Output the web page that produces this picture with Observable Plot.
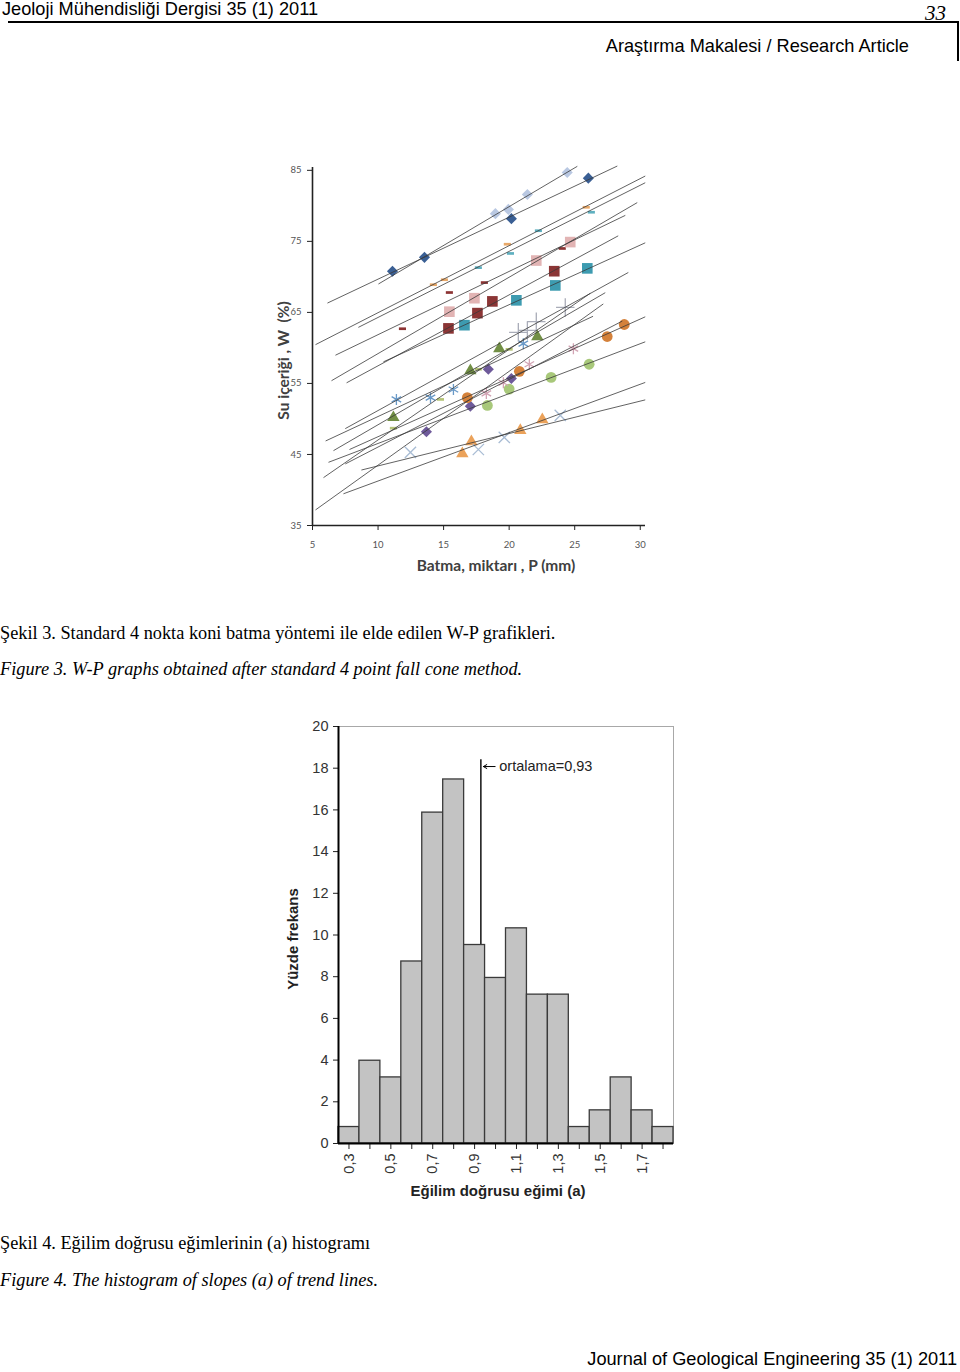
<!DOCTYPE html>
<html><head><meta charset="utf-8">
<script src="https://cdn.jsdelivr.net/npm/d3@7"></script>
<script src="https://cdn.jsdelivr.net/npm/@observablehq/plot@0.6"></script>
<style>
body{margin:0;background:#fff;}
#page{position:relative;width:960px;height:1372px;overflow:hidden;font-family:"Liberation Sans",Arial,sans-serif;color:#000;}
.abs{position:absolute;white-space:nowrap;line-height:1;}
.hdr{font-size:18.2px;}
.cap{font-family:"Liberation Serif","Times New Roman",serif;font-size:18.3px;}
.it{font-style:italic;}
#scatter,#hist{position:absolute;left:0;}
#scatter{top:150px;} #hist{top:700px;}
</style></head><body><div id="page">
<div class="abs hdr" style="left:2px;top:0px;">Jeoloji Mühendisliği Dergisi 35 (1) 2011</div>
<div class="abs" style="left:925px;top:1px;line-height:1.2;font-family:'Liberation Serif',serif;font-style:italic;font-size:21px;">33</div>
<div class="abs" style="left:8px;top:21px;width:950px;height:0;border-top:2px solid #000;"></div>
<div class="abs" style="left:957px;top:21px;width:0;height:40px;border-left:2px solid #000;"></div>
<div class="abs hdr" style="right:51px;top:37px;">Araştırma Makalesi / Research Article</div>
<div id="scatter"></div>
<div class="abs cap" style="left:0;top:624px;">Şekil 3. Standard 4 nokta koni batma yöntemi ile elde edilen W-P grafikleri.</div>
<div class="abs cap it" style="left:0;top:660px;">Figure 3. W-P graphs obtained after standard 4 point fall cone method.</div>
<div id="hist"></div>
<div class="abs cap" style="left:0;top:1234px;">Şekil 4. Eğilim doğrusu eğimlerinin (a) histogramı</div>
<div class="abs cap it" style="left:0;top:1271px;">Figure 4. The histogram of slopes (a) of trend lines.</div>
<div class="abs hdr" style="right:3px;top:1350px;">Journal of Geological Engineering 35 (1) 2011</div>
</div>
<script>
// ---------- Figure 3 data (W-P fall cone tests) ----------
const wpXTicks = [5, 10, 15, 20, 25, 30];
const wpYTicks = [35, 45, 55, 65, 75, 85];
const wpXLabel = "Batma, miktarı , P (mm)";
const wpYLabel = "Su içeriği , W  (%)";
// point table (long format): test id, penetration P (mm), water content W (%)
const pointTest = [0,0,0,0, 1,1,1,1, 2,2,2,2, 3,3,3,3, 4,4,4,4, 5,5,5,5, 6,6,6,6, 7,7,7,7, 8,8,8,8,
  9,9,9,9, 10,10,10,10, 11,11,11,11, 12,12,12,12, 13,13,13,13, 14,14,14,14, 15,15,15,15, 16,16,16,16, 17,17,17,17];
const pointP = [11.10,13.54,20.17,26.04, 18.95,19.94,21.39,24.43, 14.22,15.06,19.86,25.88, 17.65,20.10,22.23,26.27,
  11.86,15.44,18.11,24.05, 15.44,17.35,22.07,24.66, 15.37,17.58,18.72,23.44, 16.59,20.55,23.52,25.96,
  11.17,17.04,19.25,22.15, 11.17,14.76,17.65,20.00, 13.69,17.04,18.41,20.17, 16.81,20.78,27.48,28.78,
  18.34,20.00,23.20,26.10, 16.43,17.12,20.85,22.53, 12.47,17.65,19.63,23.90, 18.26,19.56,21.54,24.90,
  11.40,14.00,15.75,21.08, 20.70,21.39,22.07,24.28];
const pointW = [70.8,72.75,78.2,83.9, 78.9,79.5,81.6,84.7, 68.9,69.6,74.6,79.8, 71.3,73.3,76.5,79.1,
  62.7,67.8,69.2,74.0, 65.1,67.0,72.3,74.9, 62.75,64.9,66.55,70.8, 63.2,66.7,68.8,71.2,
  50.2,56.8,59.9,61.6, 48.7,52.75,57.0,59.8, 48.2,51.8,57.0,55.7, 53.0,56.7,61.6,63.3,
  51.9,54.2,55.85,57.7, 45.1,46.8,48.4,49.9, 45.3,45.7,47.4,50.5, 53.6,55.1,57.7,59.9,
  52.75,53.0,54.15,60.6, 62.2,62.46,63.7,65.7];
// trend line extent for each test (P from / to, mm)
const trendFrom = [6.14,10.03,5.23,8.5,6.75,6.45,7.6,10.41,6.6,5.84,5.23,7.82,6.22,7.36,8.73,7.5,6.0,7.5];
const trendTo   = [28.25,25.2,30.38,30.38,28.86,29.77,28.32,30.38,27.33,26.19,27.18,30.38,30.38,30.38,30.38,28.63,26.4,29.09];

// marker styles per test
const markerKind  = ["diamond","diamond","dash","dash","dash","square","square","square","triangle","dash","diamond","circle","circle","triangle","times","asterisk","asterisk","plus"];
const markerColor = ["#3a5f94","#b9c8e2","#e8a868","#5fb0c0","#8c3333","#e2b4b4","#8b3535","#3d9bb0","#728f45","#b5c478","#6e5a9a","#d4813a","#a8c87a","#eba25a","#a8bcd4","#d2a4b4","#6a9ac8","#a9acb8"];

// ---------- Figure 4 data (histogram of slopes) ----------
const slopeBins = [0.3,0.4,0.5,0.6,0.7,0.8,0.9,1.0,1.1,1.2,1.3,1.4,1.5,1.6,1.7,1.8];
const slopePct  = [0.79,3.97,3.17,8.73,15.87,17.46,9.52,7.94,10.32,7.14,7.14,0.79,1.59,3.17,1.59,0.79];
const slopeLabelTicks = [0.3,0.5,0.7,0.9,1.1,1.3,1.5,1.7];
const histYTicks = [0,2,4,6,8,10,12,14,16,18,20];
const meanSlope = 0.93;
const meanLabel = "ortalama=0,93";
const meanLineTop = 18.4;
const meanLabelY = 18.08;
const histXLabel = "Eğilim doğrusu eğimi (a)";
const histYLabel = "Yüzde frekans";

// ---------- build figure 3 ----------
const points = pointTest.map((t, i) => ({test: t, P: pointP[i], W: pointW[i]}));
const trends = trendFrom.map((from, t) => {
  const pts = points.filter(d => d.test === t);
  const mx = d3.mean(pts, d => d.P), my = d3.mean(pts, d => d.W);
  const b = d3.sum(pts, d => (d.P - mx) * (d.W - my)) / d3.sum(pts, d => (d.P - mx) ** 2);
  const a = my - b * mx;
  return {test: t, x1: from, y1: a + b * from, x2: trendTo[t], y2: a + b * trendTo[t]};
});

const dashSym = {draw(ctx, size) { const w = Math.sqrt(size) * 0.8, h = w * 0.38; ctx.rect(-w / 2, -h / 2, w, h); }};
const diamondSym = {draw(ctx, size) { const r = Math.sqrt(size) * 0.58; ctx.moveTo(0, -r); ctx.lineTo(r, 0); ctx.lineTo(0, r); ctx.lineTo(-r, 0); ctx.closePath(); }};
const symbolOf = {diamond: diamondSym, dash: dashSym, square: "square", triangle: "triangle", circle: "circle", times: "times", asterisk: "asterisk", plus: "plus"};
const radiusOf = {diamond: 5.4, dash: 5, square: 6, triangle: 4.6, circle: 5.4, times: 5.2, asterisk: 5.2, plus: 6};
const strokeKinds = new Set(["times", "asterisk", "plus"]);

const dotMarks = markerKind.map((k, t) => {
  const data = points.filter(d => d.test === t);
  const opts = {x: "P", y: "W", symbol: symbolOf[k], r: radiusOf[k]};
  if (strokeKinds.has(k)) { opts.stroke = markerColor[t]; opts.fill = "none"; opts.strokeWidth = 1.3; }
  else { opts.fill = markerColor[t]; }
  return Plot.dot(data, opts);
});

const sc = Plot.plot({
  width: 700, height: 440,
  marginLeft: 312, marginRight: 55, marginTop: 17, marginBottom: 65,
  style: {fontFamily: "Lato, 'Open Sans', sans-serif", fontSize: "9.5px", background: "transparent", overflow: "visible"},
  x: {domain: [5, 30.4]},
  y: {domain: [35, 85.4]},
  marks: [
    Plot.axisY({ticks: wpYTicks, tickSize: 5, tickPadding: 6, label: null, color: "#555", stroke: "#222"}),
    Plot.axisX({ticks: wpXTicks, tickSize: 5, tickPadding: 11, label: null, color: "#555", stroke: "#222"}),
    Plot.ruleX([5], {stroke: "#222", strokeWidth: 1.6}),
    Plot.ruleY([35], {stroke: "#222", strokeWidth: 1.6}),
    ...dotMarks,
    Plot.link(trends, {x1: "x1", y1: "y1", x2: "x2", y2: "y2", stroke: "#3a3a3a", strokeWidth: 0.8}),
    Plot.text([wpXLabel], {text: d => d, frameAnchor: "bottom", textAnchor: "middle", dy: 45, dx: 17, fontWeight: "bold", fontSize: 15.5, fill: "#404040"}),
    Plot.text([wpYLabel], {text: d => d, frameAnchor: "left", textAnchor: "middle", dx: -28, dy: 14, rotate: -90, fontWeight: "bold", fontSize: 15.5, fill: "#404040"})
  ]
});
document.getElementById("scatter").appendChild(sc);

// ---------- build figure 4 ----------
const bins = slopeBins.map((b, i) => ({bin: b, pct: slopePct[i]}));
const fmt = d => slopeLabelTicks.includes(d) ? d.toFixed(1).replace(".", ",") : "";
const hist = Plot.plot({
  width: 700, height: 530,
  marginLeft: 338, marginRight: 27, marginTop: 26, marginBottom: 87,
  style: {fontFamily: "'Liberation Sans', Arial, sans-serif", fontSize: "14.5px", background: "transparent", overflow: "visible"},
  x: {domain: [0.25, 1.85]},
  y: {domain: [0, 20]},
  marks: [
    Plot.frame({stroke: "#a8a8a8"}),
    Plot.ruleX([meanSlope], {y1: 0, y2: meanLineTop, stroke: "#000", strokeWidth: 1.4}),
    Plot.rectY(bins, {x1: d => d.bin - 0.05, x2: d => d.bin + 0.05, y: "pct", fill: "#c3c3c3", stroke: "#3a3a3a", strokeWidth: 1.3}),
    Plot.axisY({ticks: histYTicks, tickSize: 5, tickPadding: 5, label: null, color: "#333", stroke: "#222"}),
    Plot.axisX({ticks: slopeBins, tickFormat: fmt, tickSize: 6, tickPadding: 4, tickRotate: -90, label: null, color: "#333", stroke: "#222"}),
    Plot.ruleX([0.25], {stroke: "#000", strokeWidth: 2}),
    Plot.ruleY([0], {stroke: "#000", strokeWidth: 2}),
    Plot.arrow([meanSlope], {x1: d => d + 0.068, x2: d => d + 0.012, y1: meanLabelY, y2: meanLabelY, stroke: "#000", strokeWidth: 1, headLength: 6}),
    Plot.text([meanLabel], {text: d => d, x: meanSlope + 0.088, y: meanLabelY, textAnchor: "start", fontSize: 14.5, fill: "#222"}),
    Plot.text([histXLabel], {text: d => d, frameAnchor: "bottom", textAnchor: "middle", dy: 52, dx: -8, fontWeight: "bold", fontSize: 15, fill: "#222"}),
    Plot.text([histYLabel], {text: d => d, frameAnchor: "left", textAnchor: "middle", dx: -45, dy: 4, rotate: -90, fontWeight: "bold", fontSize: 15, fill: "#222"})
  ]
});
document.getElementById("hist").appendChild(hist);
</script>
</body></html>
